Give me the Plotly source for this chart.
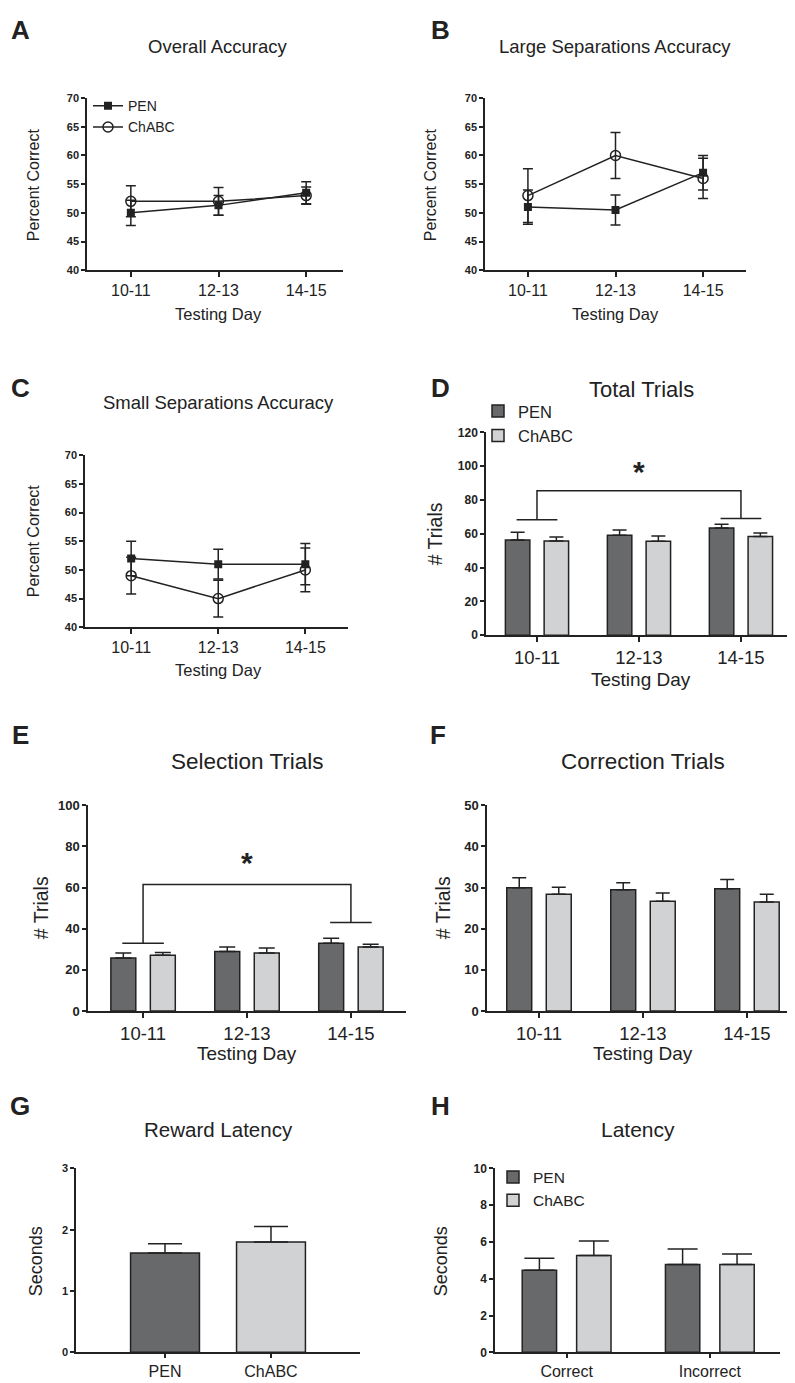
"""Behavioural measures across testing days, PEN vs ChABC."""

import plotly.graph_objects as go

# ── Data ───────────────────────────────────────────────────────
days = ["10-11", "12-13", "14-15"]
groups = ["PEN", "ChABC"]
outcomes = ["Correct", "Incorrect"]

overall_pen = [50.0, 51.3, 53.5]
overall_pen_err = [2.2, 1.7, 1.9]
overall_chabc = [52.0, 52.0, 53.0]
overall_chabc_err = [2.7, 2.4, 1.5]

large_pen = [51.0, 50.5, 57.0]
large_pen_err = [3.0, 2.6, 3.0]
large_chabc = [53.0, 60.0, 56.0]
large_chabc_err = [4.7, 4.0, 3.5]

small_pen = [52.0, 51.0, 51.0]
small_pen_err = [3.0, 2.6, 3.6]
small_chabc = [49.0, 45.0, 50.0]
small_chabc_err = [3.2, 3.2, 3.8]

total_pen = [56.4, 59.1, 63.4]
total_pen_err = [4.5, 3.1, 2.2]
total_chabc = [55.8, 55.6, 58.4]
total_chabc_err = [2.3, 3.1, 2.1]

selection_pen = [25.8, 29.0, 33.0]
selection_pen_err = [2.4, 2.1, 2.4]
selection_chabc = [27.1, 28.2, 31.1]
selection_chabc_err = [1.4, 2.4, 1.4]

correction_pen = [30.0, 29.5, 29.7]
correction_pen_err = [2.4, 1.7, 2.3]
correction_chabc = [28.4, 26.7, 26.5]
correction_chabc_err = [1.7, 2.0, 1.9]

reward_latency = [1.62, 1.80]
reward_latency_err = [0.15, 0.25]

latency_pen = [4.46, 4.78]
latency_pen_err = [0.65, 0.83]
latency_chabc = [5.26, 4.78]
latency_chabc_err = [0.79, 0.56]

# significance brackets: (top, left foot, right foot, star height)
total_bracket = (85.5, 68.3, 69.0, 97.0)
selection_bracket = (61.5, 33.0, 43.0, 72.0)

# ── Style ──────────────────────────────────────────────────────
W, H = 795, 1383
FONT = "Arial, Liberation Sans, sans-serif"
INK = "#222222"
C_DARK = "#68696b"
C_LIGHT = "#d1d2d4"


def px(x):
    return x / W


def py(y):
    return 1 - y / H


fig = go.Figure()

# panel domains in pixels: (x0, x1, y_top, y_bottom)
panels = {
    1: (79, 335, 84, 258),
    2: (477, 738, 84, 258),
    3: (77, 340, 445, 619),
    4: (478, 787, 422, 627),
    5: (80, 398, 799, 1007),
    6: (479, 792, 799, 1007),
    7: (68, 352, 1166, 1352),
    8: (487, 772, 1166, 1352),
}


def ax_name(i, kind):
    return kind if i == 1 else f"{kind}{i}"


def add_lines(i, pen, pen_err, chabc, chabc_err, legend=False):
    err = dict(type="data", width=5, thickness=1.5, color=INK)
    fig.add_trace(go.Scatter(
        x=days, y=pen, name="PEN", mode="lines+markers",
        error_y=dict(err, array=pen_err),
        line=dict(color=INK, width=1.5),
        marker=dict(symbol="square", size=8, color=INK),
        xaxis=ax_name(i, "x"), yaxis=ax_name(i, "y"),
        showlegend=legend, legend="legend",
    ))
    fig.add_trace(go.Scatter(
        x=days, y=chabc, name="ChABC", mode="lines+markers",
        error_y=dict(err, array=chabc_err),
        line=dict(color=INK, width=1.5),
        marker=dict(symbol="circle-open", size=10, color=INK, line=dict(width=1.5)),
        xaxis=ax_name(i, "x"), yaxis=ax_name(i, "y"),
        showlegend=legend, legend="legend",
    ))


def add_pair(i, cats, pen, pen_err, chabc, chabc_err, cap, legend=None):
    for name, vals, errs, color, off in [
        ("PEN", pen, pen_err, C_DARK, -0.31),
        ("ChABC", chabc, chabc_err, C_LIGHT, 0.07),
    ]:
        fig.add_trace(go.Bar(
            x=cats, y=vals, name=name, width=0.24, offset=off,
            marker=dict(color=color, line=dict(color=INK, width=1.5)),
            error_y=dict(type="data", symmetric=False, array=errs,
                         arrayminus=[0] * len(errs), width=cap,
                         thickness=1.5, color=INK),
            xaxis=ax_name(i, "x"), yaxis=ax_name(i, "y"),
            showlegend=legend is not None, legend=legend or "legend",
        ))


add_lines(1, overall_pen, overall_pen_err, overall_chabc, overall_chabc_err, legend=True)
add_lines(2, large_pen, large_pen_err, large_chabc, large_chabc_err)
add_lines(3, small_pen, small_pen_err, small_chabc, small_chabc_err)
add_pair(4, days, total_pen, total_pen_err, total_chabc, total_chabc_err, 7, legend="legend2")
add_pair(5, days, selection_pen, selection_pen_err, selection_chabc, selection_chabc_err, 8)
add_pair(6, days, correction_pen, correction_pen_err, correction_chabc, correction_chabc_err, 7)
add_pair(8, outcomes, latency_pen, latency_pen_err, latency_chabc, latency_chabc_err, 15,
         legend="legend3")

fig.add_trace(go.Bar(
    x=groups, y=reward_latency, width=0.65, offset=-0.325,
    marker=dict(color=[C_DARK, C_LIGHT], line=dict(color=INK, width=1.5)),
    error_y=dict(type="data", symmetric=False, array=reward_latency_err,
                 arrayminus=[0, 0], width=17, thickness=1.5, color=INK),
    xaxis="x7", yaxis="y7", showlegend=False,
))

# ── Axes ───────────────────────────────────────────────────────
y_specs = {
    1: ([40, 70], 5, 11), 2: ([40, 70], 5, 11), 3: ([40, 70], 5, 11),
    4: ([0, 120], 20, 12), 5: ([0, 100], 20, 13), 6: ([0, 50], 10, 13),
    7: ([0, 3], 1, 11), 8: ([0, 10], 2, 12),
}
x_specs = {
    1: ([-0.5, 2.42], 16, 5), 2: ([-0.49, 2.49], 16, 5), 3: ([-0.53, 2.49], 16, 5),
    4: ([-0.5, 2.53], 18.5, 5), 5: ([-0.53, 2.53], 18.5, 5), 6: ([-0.5, 2.51], 18.5, 5),
    7: ([-0.84, 1.84], 16, 4), 8: ([-0.5, 1.49], 16, 4),
}

layout_axes = {}
for i, (x0, x1, yt, yb) in panels.items():
    yr, dt, yfs = y_specs[i]
    xr, xfs, xlen = x_specs[i]
    layout_axes[ax_name(i, "xaxis")] = dict(
        domain=[px(x0), px(x1)], anchor=ax_name(i, "y"), type="category",
        range=xr, showline=True, linecolor=INK, linewidth=1.5,
        ticks="outside", ticklen=xlen, tickwidth=1.5, tickcolor=INK,
        showgrid=False, zeroline=False, fixedrange=True,
        tickfont=dict(family=FONT, size=xfs, color=INK),
    )
    layout_axes[ax_name(i, "yaxis")] = dict(
        domain=[py(yb), py(yt)], anchor=ax_name(i, "x"),
        range=yr, dtick=dt, tick0=yr[0], showline=True, linecolor=INK,
        linewidth=1.5, ticks="outside", ticklen=4, tickwidth=1.5,
        tickcolor=INK, showgrid=False, zeroline=False, fixedrange=True,
        tickfont=dict(family=FONT, size=yfs, color=INK, weight="bold"),
    )

# ── Text ───────────────────────────────────────────────────────
annotations = []


def text(x, y, s, size, bold=False, angle=0):
    annotations.append(dict(
        x=px(x), y=py(y), xref="paper", yref="paper", text=s,
        showarrow=False, textangle=angle, xanchor="center", yanchor="middle",
        font=dict(family=FONT, size=size, color=INK,
                  weight="bold" if bold else "normal"),
    ))


for letter, x, y in [("A", 12, 15), ("B", 432, 15), ("C", 12, 377), ("D", 432, 377),
                     ("E", 12, 728), ("F", 430, 728), ("G", 12, 1103), ("H", 432, 1103)]:
    text(x, y, letter, 26, bold=True)

text(210, 32, "Overall Accuracy", 18.5)
text(607, 32, "Large Separations Accuracy", 18.5)
text(210, 392, "Small Separations Accuracy", 18.5)
text(633, 379, "Total Trials", 22)
text(239, 755, "Selection Trials", 22.5)
text(635, 755, "Correction Trials", 22.5)
text(210, 1127, "Reward Latency", 20.5)
text(630, 1127, "Latency", 21)

text(25, 172, "Percent Correct", 16, angle=-90)
text(422, 172, "Percent Correct", 16, angle=-90)
text(25, 532, "Percent Correct", 16, angle=-90)
text(427, 525, "# Trials", 19.5, angle=-90)
text(33, 903, "# Trials", 19.5, angle=-90)
text(435, 903, "# Trials", 19.5, angle=-90)
text(28, 1260, "Seconds", 18, angle=-90)
text(433, 1260, "Seconds", 18, angle=-90)

text(210, 302, "Testing Day", 16.5)
text(607, 302, "Testing Day", 16.5)
text(210, 662, "Testing Day", 16.5)
text(633, 672, "Testing Day", 19)
text(239, 1050, "Testing Day", 19)
text(635, 1050, "Testing Day", 19)

# ── Significance brackets ──────────────────────────────────────
shapes = []
for i, (top, left, right, star) in [(4, total_bracket), (5, selection_bracket)]:
    xr, yr = ax_name(i, "x"), ax_name(i, "y")
    line = dict(color=INK, width=1.5)
    path = f"M 0,{left} L 0,{top} L 2,{top} L 2,{right}"
    shapes.append(dict(type="path", path=path, xref=xr, yref=yr, line=line))
    shapes.append(dict(type="line", x0=-0.2, x1=0.2, y0=left, y1=left,
                       xref=xr, yref=yr, line=line))
    shapes.append(dict(type="line", x0=1.8, x1=2.2, y0=right, y1=right,
                       xref=xr, yref=yr, line=line))
    annotations.append(dict(
        x=1, y=star, xref=xr, yref=yr, text="*", showarrow=False,
        font=dict(family=FONT, size=30, color=INK, weight="bold"),
    ))

fig.update_layout(
    width=W, height=H, margin=dict(l=0, r=0, t=0, b=0),
    paper_bgcolor="white", plot_bgcolor="white",
    barmode="overlay",
    annotations=annotations, shapes=shapes,
    legend=dict(x=px(80), y=py(76), xanchor="left", yanchor="top",
                font=dict(family=FONT, size=14, color=INK),
                bgcolor="rgba(0,0,0,0)", tracegroupgap=0, itemwidth=30),
    legend2=dict(x=px(470), y=py(383), xanchor="left", yanchor="top",
                 font=dict(family=FONT, size=16.5, color=INK),
                 bgcolor="rgba(0,0,0,0)", tracegroupgap=0),
    legend3=dict(x=px(485), y=py(1158), xanchor="left", yanchor="top",
                 font=dict(family=FONT, size=15.5, color=INK),
                 bgcolor="rgba(0,0,0,0)", tracegroupgap=0),
    **layout_axes,
)

fig.write_html("out.html")
